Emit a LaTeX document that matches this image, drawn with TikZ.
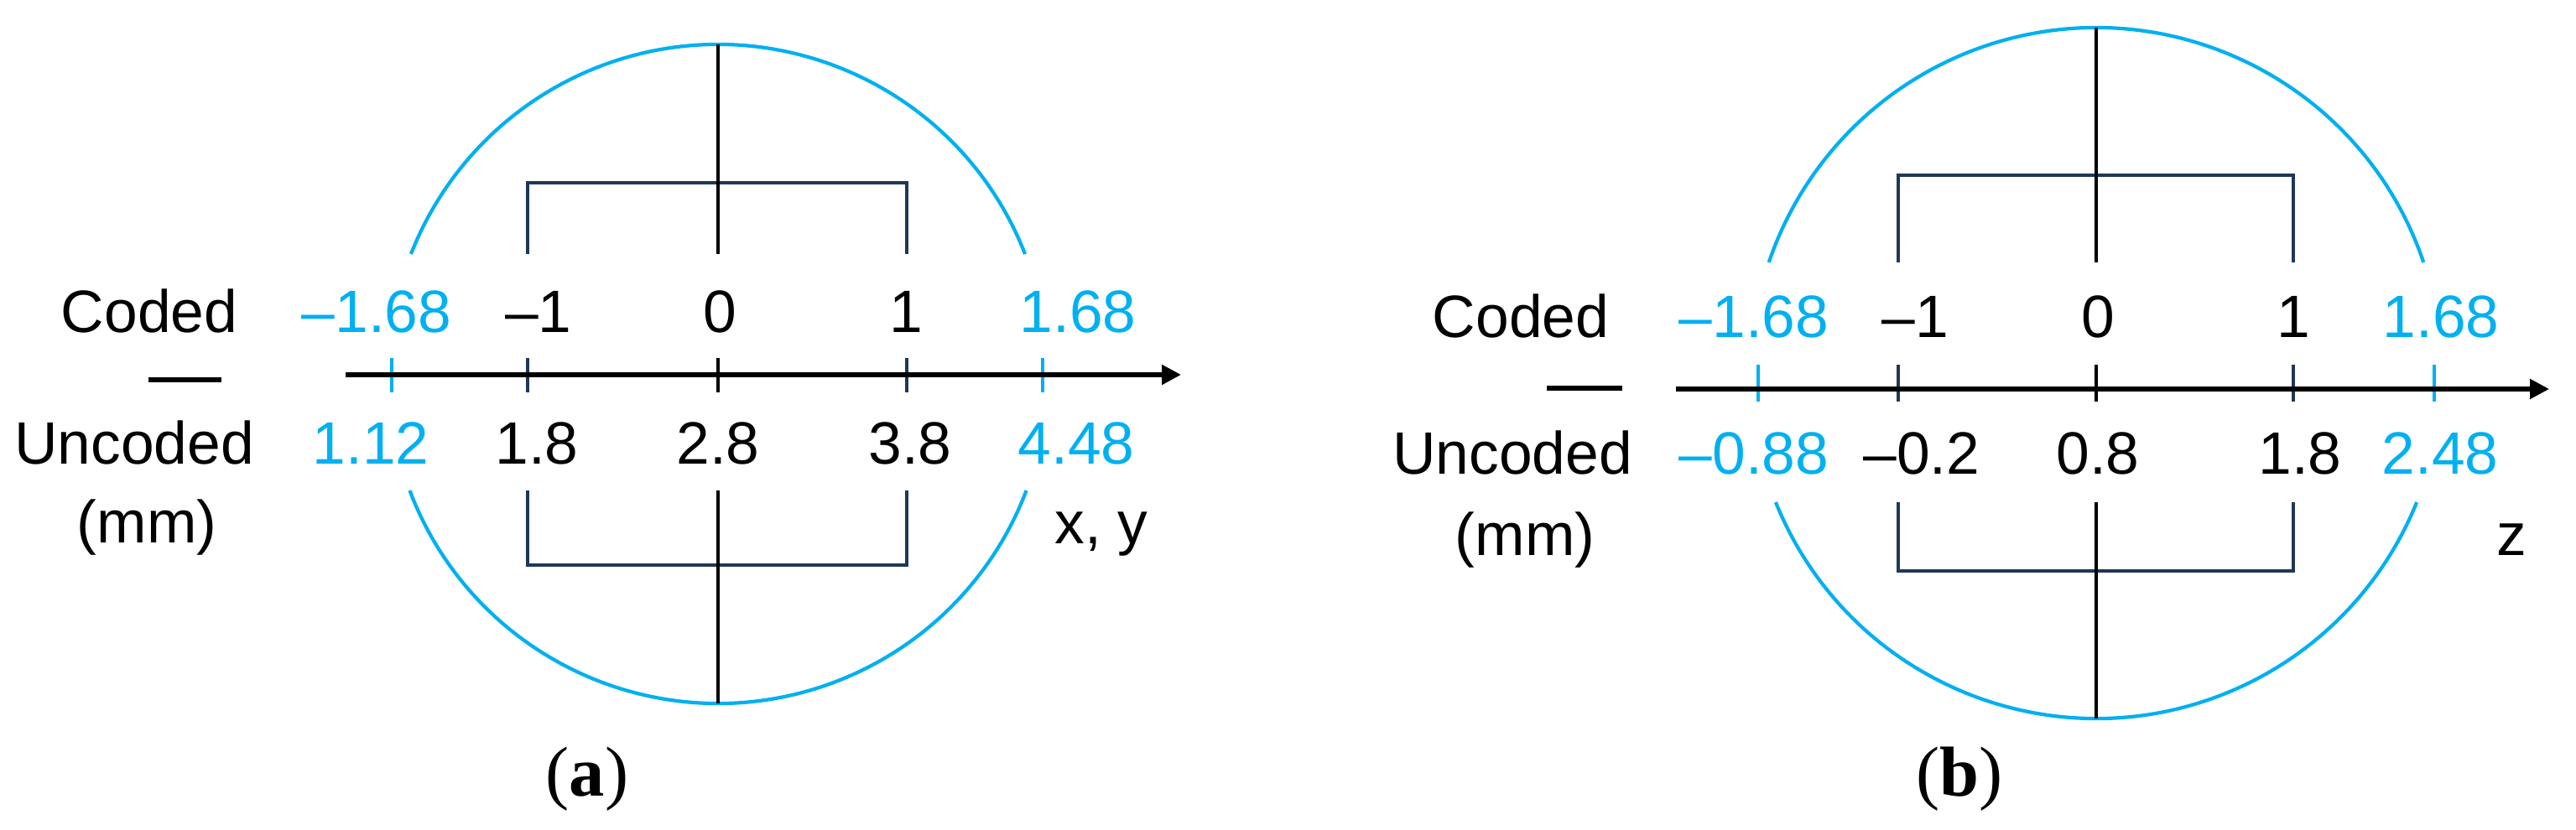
\documentclass[tikz,border=0pt]{standalone}
\usepackage{fontspec}
\setmainfont{Liberation Sans}
\newfontfamily\capfont{Liberation Serif}
\usetikzlibrary{arrows.meta}
\definecolor{cyanc}{RGB}{0,176,240}
\definecolor{navyc}{RGB}{31,56,88}
\tikzset{
  lbl/.style={inner sep=0pt, anchor=base, font=\fontsize{20.3pt}{24pt}\selectfont},
  cyl/.style={lbl, text=cyanc},
  capt/.style={inner sep=0pt, anchor=base, font=\capfont\fontsize{24pt}{28pt}\selectfont},
  ring/.style={draw=cyanc, line width=1.2pt},
  sq/.style={draw=navyc, line width=0.9pt},
  axisline/.style={draw=black, line width=1.5pt, -{Triangle[length=6.5pt,width=6.5pt]}},
  vline/.style={draw=black, line width=1.2pt},
  tickc/.style={draw=cyanc, line width=0.9pt},
  tickn/.style={draw=navyc, line width=0.9pt},
  tickk/.style={draw=black, line width=1.2pt},
  fbar/.style={draw=black, line width=1.6pt},
}
\begin{document}
\begin{tikzpicture}
\useasboundingbox (0,0) rectangle (30.71,9.90);

% ================= panel (a) =================
\coordinate (ca) at (8.56,5.44);
\draw[ring] (ca) ++(21.34:3.93) arc[start angle=21.34, end angle=158.66, radius=3.93];
\draw[ring] (ca) ++(200.71:3.93) arc[start angle=200.71, end angle=339.29, radius=3.93];
\draw[sq] (6.29,6.87) -- (6.29,7.72) -- (10.81,7.72) -- (10.81,6.87);
\draw[sq] (6.29,4.05) -- (6.29,3.16) -- (10.81,3.16) -- (10.81,4.05);
\coordinate (atop) at (8.56,9.37);
\coordinate (atopc) at (8.56,6.87);
\coordinate (abotc) at (8.56,4.05);
\coordinate (abot) at (8.56,1.51);
\draw[vline] (atop) -- (atopc);
\draw[vline] (abotc) -- (abot);
\draw[tickc] (4.67,5.63) -- (4.67,5.22);
\draw[tickn] (6.29,5.63) -- (6.29,5.22);
\draw[tickk] (8.56,5.63) -- (8.56,5.22);
\draw[tickn] (10.81,5.63) -- (10.81,5.22);
\draw[tickc] (12.43,5.63) -- (12.43,5.22);
\coordinate (aax0) at (4.12,5.43);
\coordinate (aax1) at (14.08,5.43);
\draw[axisline] (aax0) -- (aax1);
\coordinate (abar0) at (1.77,5.37);
\coordinate (abar1) at (2.64,5.37);
\draw[fbar] (abar0) -- (abar1);

\node[lbl] (acoded) at (1.78,5.93) {Coded};
\node[lbl] (auncoded) at (1.60,4.36) {Uncoded};
\node[lbl] (amm) at (1.75,3.42) {(mm)};
\node[cyl] (ac1) at (4.49,5.93) {–1.68};
\node[lbl] (ac2) at (6.42,5.93) {–1};
\node[lbl] (ac3) at (8.58,5.93) {0};
\node[lbl] (ac4) at (10.80,5.93) {1};
\node[cyl] (ac5) at (12.85,5.93) {1.68};
\node[cyl] (au1) at (4.42,4.36) {1.12};
\node[lbl] (au2) at (6.40,4.36) {1.8};
\node[lbl] (au3) at (8.56,4.36) {2.8};
\node[lbl] (au4) at (10.85,4.36) {3.8};
\node[cyl] (au5) at (12.83,4.36) {4.48};
\node[lbl] (axy) at (13.13,3.41) {x, y};
\node[capt] (acap) at (7.00,0.40) {(\textbf{a})};

% ================= panel (b) =================
\coordinate (cb) at (24.99,5.45);
\draw[ring] (cb) ++(18.69:4.12) arc[start angle=18.69, end angle=161.31, radius=4.12];
\draw[ring] (cb) ++(201.95:4.12) arc[start angle=201.95, end angle=338.05, radius=4.12];
\draw[sq] (22.63,6.77) -- (22.63,7.81) -- (27.34,7.81) -- (27.34,6.77);
\draw[sq] (22.63,3.91) -- (22.63,3.09) -- (27.34,3.09) -- (27.34,3.91);
\coordinate (btop) at (24.99,9.57);
\coordinate (btopc) at (24.99,6.77);
\coordinate (bbotc) at (24.99,3.91);
\coordinate (bbot) at (24.99,1.33);
\draw[vline] (btop) -- (btopc);
\draw[vline] (bbotc) -- (bbot);
\draw[tickc] (20.96,5.55) -- (20.96,5.11);
\draw[tickn] (22.63,5.55) -- (22.63,5.11);
\draw[tickk] (24.99,5.55) -- (24.99,5.11);
\draw[tickn] (27.34,5.55) -- (27.34,5.11);
\draw[tickc] (29.02,5.55) -- (29.02,5.11);
\coordinate (bax0) at (19.98,5.26);
\coordinate (bax1) at (30.39,5.26);
\draw[axisline] (bax0) -- (bax1);
\coordinate (bbar0) at (18.44,5.27);
\coordinate (bbar1) at (19.34,5.27);
\draw[fbar] (bbar0) -- (bbar1);

\node[lbl] (bcoded) at (18.13,5.87) {Coded};
\node[lbl] (buncoded) at (18.03,4.24) {Uncoded};
\node[lbl] (bmm) at (18.18,3.27) {(mm)};
\node[cyl] (bc1) at (20.91,5.87) {–1.68};
\node[lbl] (bc2) at (22.83,5.87) {–1};
\node[lbl] (bc3) at (25.01,5.87) {0};
\node[lbl] (bc4) at (27.34,5.87) {1};
\node[cyl] (bc5) at (29.10,5.87) {1.68};
\node[cyl] (bu1) at (20.91,4.24) {–0.88};
\node[lbl] (bu2) at (22.91,4.24) {–0.2};
\node[lbl] (bu3) at (25.01,4.24) {0.8};
\node[lbl] (bu4) at (27.42,4.24) {1.8};
\node[cyl] (bu5) at (29.09,4.24) {2.48};
\node[lbl] (bz) at (29.94,3.27) {z};
\node[capt] (bcap) at (23.36,0.40) {(\textbf{b})};
\end{tikzpicture}
\end{document}
